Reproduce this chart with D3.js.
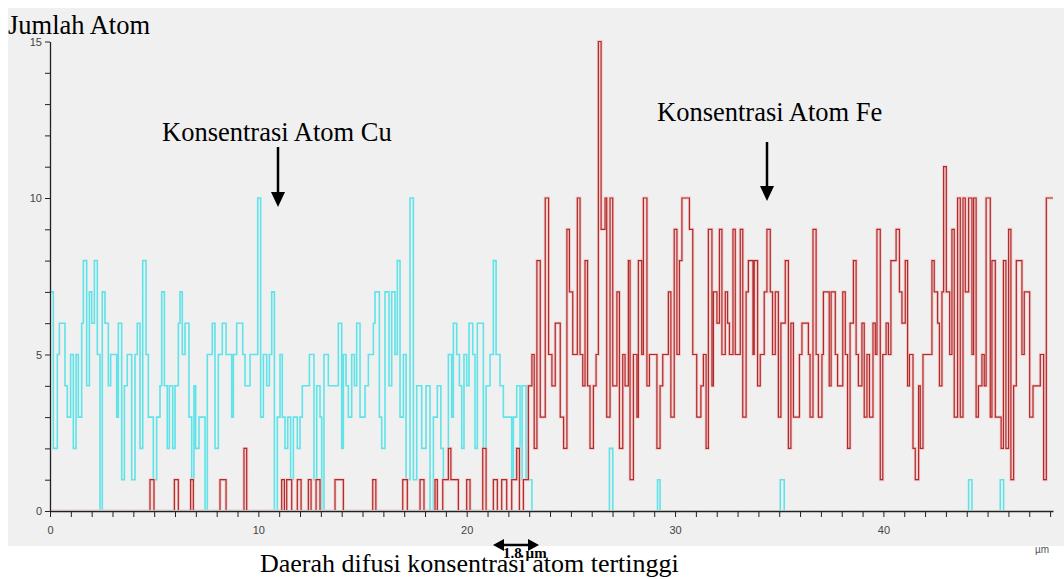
<!DOCTYPE html>
<html>
<head>
<meta charset="utf-8">
<script src="https://cdn.jsdelivr.net/npm/d3@7"></script>
<style>
  body { margin: 0; background: #ffffff; }
</style>
</head>
<body>
<div id="chart"></div>
<script>
// Cu counts (step breakpoints, µm)
var cuX = [0.00,0.16,0.35,0.45,0.72,0.83,0.99,1.12,1.25,1.36,1.52,1.60,1.76,1.89,2.00,2.13,2.27,2.40,2.51,2.64,
    2.80,2.91,3.20,3.28,3.44,3.57,3.71,3.92,4.08,4.19,4.32,4.45,4.61,4.72,4.96,5.12,5.28,5.36,5.49,5.63,
    5.73,5.89,6.00,6.16,6.24,6.35,6.48,6.67,6.80,6.91,6.99,7.15,7.44,7.55,7.79,7.92,8.08,8.27,8.45,8.72,
    8.80,8.96,9.25,9.36,9.60,9.97,10.11,10.24,10.40,10.53,10.64,10.77,10.91,11.04,11.15,11.28,11.41,11.55,11.68,11.87,
    12.00,12.11,12.45,12.67,12.80,12.96,13.04,13.15,13.36,13.84,14.00,14.08,14.21,14.32,14.48,14.61,14.72,14.88,15.12,15.28,
    15.52,15.60,15.81,15.92,16.08,16.27,16.40,16.56,16.67,16.80,16.96,17.09,17.28,17.44,17.60,17.84,18.05,18.24,18.40,18.59,
    18.76,18.88,19.12,19.28,19.36,19.52,19.65,19.76,19.87,20.00,20.11,20.29,20.40,20.51,20.80,20.93,21.12,21.28,21.41,21.60,
    21.76,22.16,22.24,22.40,22.56,22.66,22.85,23.13,26.85,27.01,29.16,29.28,35.05,35.24,44.09,44.25,45.61,45.77,48.14];
var cuY = [7,2,5,6,4,3,5,2,5,3,6,8,4,7,6,8,5,0,7,6,
    4,5,3,6,1,4,5,1,5,6,2,8,5,3,1,3,4,7,4,2,
    4,2,4,6,7,5,6,3,1,4,2,3,0,5,6,2,5,6,5,3,
    5,6,5,4,5,10,3,5,4,5,7,0,3,5,3,2,3,1,3,2,
    3,4,5,1,4,3,0,5,4,6,2,5,4,3,5,4,6,3,4,5,
    6,7,3,2,7,4,7,5,8,3,5,1,10,1,4,2,4,0,3,4,
    2,1,5,3,6,5,4,2,5,4,6,5,2,6,2,4,5,8,5,4,
    3,1,3,4,1,4,1,0,2,0,1,0,1,0,1,0,1,0,0];

// Fe counts (step breakpoints, µm)
var feX = [0.00,4.80,4.99,5.97,6.16,6.75,6.88,8.16,8.45,9.31,9.44,11.12,11.25,11.36,11.60,11.87,12.05,12.40,12.53,12.77,
    12.96,13.68,14.08,15.49,15.64,16.93,17.15,17.76,17.95,18.48,18.59,18.85,19.12,19.24,19.60,20.00,20.16,20.77,20.93,21.28,
    21.47,21.68,21.92,22.16,22.40,22.53,22.72,22.96,23.13,23.24,23.37,23.53,23.77,23.93,24.09,24.25,24.49,24.65,24.81,24.93,
    25.09,25.31,25.44,25.57,25.68,25.80,25.92,26.08,26.21,26.32,26.45,26.64,26.72,26.88,27.01,27.21,27.33,27.49,27.60,27.76,
    27.84,28.00,28.17,28.24,28.40,28.48,28.65,28.77,29.13,29.28,29.41,29.68,29.80,29.96,30.09,30.21,30.33,30.69,30.85,31.04,
    31.24,31.36,31.49,31.60,31.77,31.84,32.01,32.13,32.25,32.41,32.52,32.61,32.78,32.89,33.13,33.25,33.41,33.52,33.74,33.80,
    33.96,34.09,34.28,34.41,34.57,34.68,34.81,34.96,35.08,35.29,35.44,35.56,35.68,35.97,36.09,36.40,36.48,36.62,36.77,36.88,
    37.05,37.12,37.40,37.49,37.69,37.80,38.05,38.17,38.28,38.40,38.56,38.69,38.80,38.97,39.08,39.21,39.33,39.50,39.61,39.69,
    39.85,39.97,40.13,40.24,40.36,40.61,40.77,40.89,41.05,41.16,41.25,41.42,41.53,41.69,41.77,41.90,42.33,42.44,42.60,42.69,
    42.81,42.89,43.02,43.18,43.29,43.40,43.56,43.69,43.82,43.93,44.09,44.25,44.33,44.45,44.56,44.73,44.84,44.93,45.13,45.21,
    45.37,45.65,45.76,45.88,46.01,46.12,46.25,46.38,46.65,46.76,47.02,47.18,47.53,47.69,47.82,48.14];
var feY = [0,1,0,1,0,1,0,1,0,2,0,1,0,1,0,1,0,1,0,1,
    0,1,0,1,0,1,0,1,0,1,0,1,2,1,0,1,0,2,0,1,
    0,1,0,1,2,0,1,4,5,2,8,3,10,5,4,6,3,2,9,7,
    5,10,5,4,8,4,2,4,5,15,9,10,3,10,4,7,2,5,4,8,
    1,5,3,8,5,10,4,5,2,4,5,7,3,9,5,8,10,9,5,3,
    4,5,2,9,4,7,6,9,5,7,6,5,9,5,9,3,7,8,5,8,
    4,5,7,9,7,5,7,3,6,8,2,6,3,5,6,5,3,9,5,3,
    5,7,4,7,5,4,7,5,2,6,8,5,4,6,3,5,3,6,5,9,
    1,5,6,5,8,9,7,6,8,4,5,2,1,4,2,5,8,7,6,4,
    7,11,7,5,9,3,10,3,10,7,10,5,10,3,4,5,4,10,3,8,
    3,2,8,2,9,1,4,8,5,7,3,4,5,1,10,10];

var xTicks = [0, 10, 20, 30, 40];
var yTicks = [0, 5, 10, 15];

function init(){
    var w = 1064;
    var h = 579;

    var xScale = d3.scaleLinear()
                    .domain([0, 48.14])
                    .range([50, 1053]);

    var yScale = d3.scaleLinear()
                    .domain([0, 15])
                    .range([511, 41.5]);

    var svg = d3.select('#chart')
                .append('svg')
                .attr('width', w)
                .attr('height', h);

    // keep the zero runs hidden under the x axis
    svg.append('defs')
        .append('clipPath')
        .attr('id', 'plotClip')
        .append('rect')
        .attr('x', 0)
        .attr('y', 0)
        .attr('width', w)
        .attr('height', yScale(0) - 1);

    // grey panel behind the plot
    svg.append('rect')
        .attr('x', 8)
        .attr('y', 8)
        .attr('width', w - 8)
        .attr('height', 538)
        .attr('fill', '#f0f0f0');

    // step lines
    var line = d3.line()
                .x(function(d){ return xScale(d[0]); })
                .y(function(d){ return yScale(d[1]); })
                .curve(d3.curveStepAfter);

    var cuData = d3.zip(cuX, cuY);
    var feData = d3.zip(feX, feY);

    var plot = svg.append('g')
        .attr('clip-path', 'url(#plotClip)');

    plot.append('path')
        .datum(cuData)
        .attr('d', line)
        .attr('fill', 'none')
        .attr('stroke', '#5fe3e8')
        .attr('stroke-width', 1.6);

    plot.append('path')
        .datum(feData)
        .attr('d', line)
        .attr('fill', 'none')
        .attr('stroke', '#f3c9c9')
        .attr('stroke-width', 3);

    plot.append('path')
        .datum(feData)
        .attr('d', line)
        .attr('fill', 'none')
        .attr('stroke', '#b02a2a')
        .attr('stroke-width', 1.2);

    // axes, a tick every unit, labels on the majors
    var yAxis = d3.axisLeft(yScale)
                .tickValues(d3.range(0, 16))
                .tickFormat(function(d){ return yTicks.indexOf(d) >= 0 ? d : ''; })
                .tickSize(5)
                .tickSizeOuter(0);

    var xAxis = d3.axisBottom(xScale)
                .tickValues(d3.range(0, 49))
                .tickFormat(function(d){ return xTicks.indexOf(d) >= 0 ? d : ''; })
                .tickSize(6)
                .tickSizeOuter(0);

    var gy = svg.append('g')
        .attr('transform', 'translate(50,0)')
        .call(yAxis);

    var gx = svg.append('g')
        .attr('transform', 'translate(0,511)')
        .call(xAxis);

    [gx, gy].forEach(function(g){
        g.attr('font-family', 'Liberation Sans, Arial, sans-serif')
         .attr('font-size', 11);
        g.selectAll('text').attr('fill', '#444');
        g.selectAll('line').attr('stroke', '#222');
        g.select('.domain').attr('stroke', '#222').attr('stroke-width', 1.3);
    });
    gx.selectAll('text').attr('dy', '1.3em');

    svg.append('text')
        .attr('x', 1035)
        .attr('y', 553)
        .attr('font-family', 'Liberation Sans, Arial, sans-serif')
        .attr('font-size', 10)
        .attr('fill', '#555')
        .text('µm');

    // annotations
    var serif = 'Liberation Serif, Times New Roman, serif';

    svg.append('text')
        .attr('x', 8)
        .attr('y', 34)
        .attr('font-family', serif)
        .attr('font-size', 26.5)
        .text('Jumlah Atom');

    svg.append('text')
        .attr('x', 162)
        .attr('y', 141)
        .attr('font-family', serif)
        .attr('font-size', 26.5)
        .text('Konsentrasi Atom Cu');

    svg.append('text')
        .attr('x', 657)
        .attr('y', 121)
        .attr('font-family', serif)
        .attr('font-size', 26.5)
        .text('Konsentrasi Atom Fe');

    svg.append('text')
        .attr('x', 260)
        .attr('y', 572)
        .attr('font-family', serif)
        .attr('font-size', 26)
        .text('Daerah difusi konsentrasi atom tertinggi');

    svg.append('text')
        .attr('x', 503)
        .attr('y', 558)
        .attr('font-family', serif)
        .attr('font-size', 15)
        .attr('font-weight', 'bold')
        .text('1.8 µm');

    // arrows
    function downArrow(x, y0, y1){
        svg.append('line')
            .attr('x1', x).attr('y1', y0)
            .attr('x2', x).attr('y2', y1 - 12)
            .attr('stroke', '#000')
            .attr('stroke-width', 2.5);
        svg.append('path')
            .attr('d', 'M' + (x - 7) + ',' + (y1 - 15) + 'L' + (x + 7) + ',' + (y1 - 15) + 'L' + x + ',' + y1 + 'Z')
            .attr('fill', '#000');
    }
    downArrow(278, 147, 207);
    downArrow(767, 142, 201);

    // double arrow for the 1.8 µm width
    svg.append('line')
        .attr('x1', 500).attr('y1', 545)
        .attr('x2', 532).attr('y2', 545)
        .attr('stroke', '#000')
        .attr('stroke-width', 2.5);
    svg.append('path')
        .attr('d', 'M493,545L504,539L504,551Z')
        .attr('fill', '#000');
    svg.append('path')
        .attr('d', 'M539,545L528,539L528,551Z')
        .attr('fill', '#000');
}

window.onload = init;
</script>
</body>
</html>
